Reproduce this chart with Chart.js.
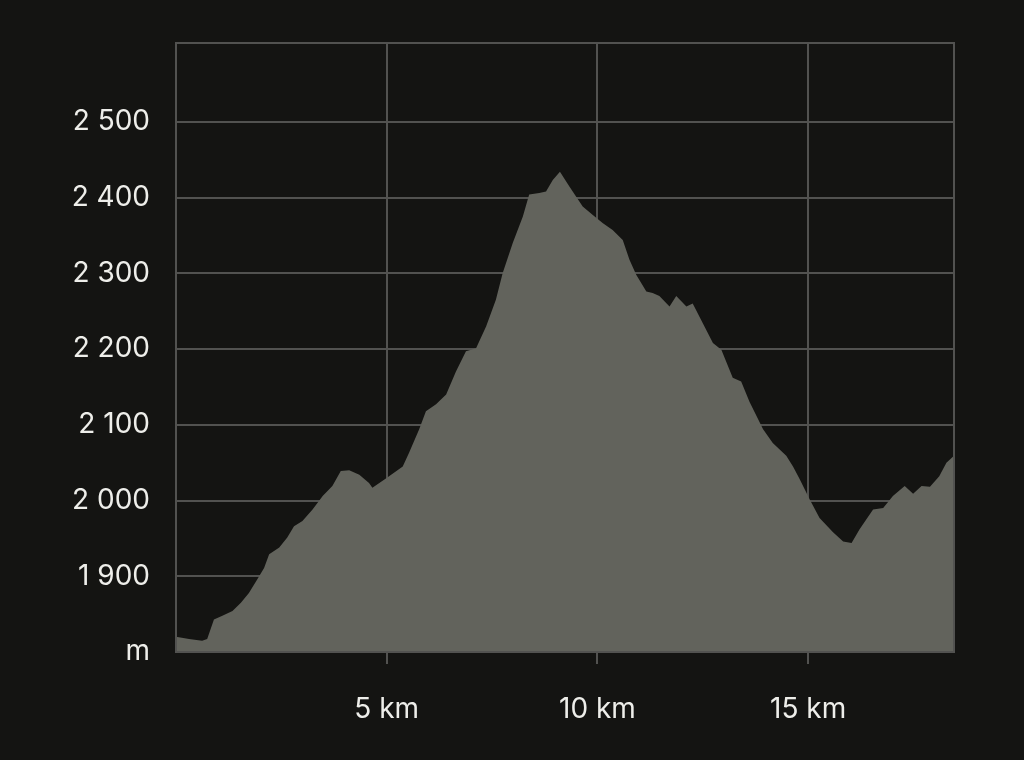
<!DOCTYPE html>
<html>
<head>
<meta charset="utf-8">
<script src="https://cdn.jsdelivr.net/npm/chart.js@4"></script>
<style>
    html, body { margin: 0; padding: 0; background: #141412; }
    #wrap { width: 1024px; height: 760px; position: relative; }
</style>
</head>
<body>
<div id="wrap"><canvas id="profileChart"></canvas></div>
<script>
// Distance along the route (km) and elevation (m)
const distKm = [
    0.00, 0.31, 0.62, 0.74, 0.90, 1.10, 1.34, 1.54, 1.73, 1.93,
    2.09, 2.21, 2.45, 2.64, 2.80, 3.00, 3.24, 3.48, 3.71, 3.91,
    4.11, 4.35, 4.58, 4.66, 4.98, 5.38, 5.53, 5.77, 5.93, 6.17,
    6.41, 6.64, 6.88, 7.12, 7.36, 7.59, 7.75, 7.99, 8.23, 8.38,
    8.62, 8.78, 8.94, 9.11, 9.33, 9.65, 9.89, 10.13, 10.36, 10.60,
    10.76, 10.92, 11.16, 11.31, 11.47, 11.71, 11.87, 12.11, 12.26, 12.50,
    12.74, 12.94, 13.21, 13.41, 13.61, 13.93, 14.16, 14.48, 14.64, 14.80,
    15.04, 15.27, 15.59, 15.83, 16.03, 16.22, 16.54, 16.78, 17.01, 17.29,
    17.49, 17.69, 17.89, 18.11, 18.28, 18.46
];
const elevM = [
    1820, 1817, 1815, 1817, 1843, 1848, 1854, 1865, 1878, 1896,
    1911, 1929, 1938, 1951, 1966, 1973, 1988, 2006, 2019, 2039,
    2040, 2034, 2023, 2017, 2029, 2045, 2063, 2094, 2118, 2127,
    2140, 2170, 2197, 2201, 2230, 2265, 2300, 2340, 2375, 2404,
    2406, 2408, 2423, 2434, 2415, 2388, 2377, 2366, 2357, 2344,
    2318, 2298, 2276, 2274, 2270, 2256, 2270, 2256, 2260, 2234,
    2208, 2199, 2162, 2157, 2130, 2094, 2076, 2059, 2045, 2028,
    2001, 1977, 1958, 1946, 1944, 1962, 1988, 1990, 2006, 2019,
    2009, 2019, 2018, 2032, 2050, 2059
];
const xTicks = [5, 10, 15];
const yTicks = [1800, 1900, 2000, 2100, 2200, 2300, 2400, 2500];

const colors = {
    bg: '#141412',
    fill: '#62635c',
    grid: '#525250',
    text: '#eeeeea'
};

const fontSpec = { family: 'Inter, "Noto Sans", sans-serif', size: 28 };

// space as thousands separator, bottom tick shows the unit
const fmtElev = (v) => {
    if (v === 1800) return 'm';
    const s = String(v);
    return s.length > 3 ? s.slice(0, -3) + '\u00A0' + s.slice(-3) : s;
};

const framePlugin = {
    id: 'frame',
    beforeDraw(chart) {
        const ctx = chart.ctx;
        ctx.save();
        ctx.fillStyle = colors.bg;
        ctx.fillRect(0, 0, chart.width, chart.height);
        ctx.restore();
    },
    afterDatasetsDraw(chart) {
        const { ctx, chartArea: a } = chart;
        ctx.save();
        ctx.strokeStyle = colors.grid;
        ctx.lineWidth = 2;
        ctx.strokeRect(a.left, a.top, a.right - a.left, a.bottom - a.top);
        ctx.restore();
    }
};

new Chart(document.getElementById('profileChart'), {
    type: 'line',
    data: {
        datasets: [{
            data: distKm.map((d, i) => ({ x: d, y: elevM[i] })),
            fill: 'start',
            backgroundColor: colors.fill,
            borderWidth: 0,
            pointRadius: 0,
            tension: 0
        }]
    },
    options: {
        responsive: true,
        maintainAspectRatio: false,
        animation: false,
        layout: { padding: { top: 43, right: 70, left: 0, bottom: 0 } },
        plugins: { legend: { display: false }, tooltip: { enabled: false } },
        scales: {
            x: {
                type: 'linear',
                min: 0,
                max: 18.46,
                afterBuildTicks: (axis) => { axis.ticks = xTicks.map(v => ({ value: v })); },
                afterFit: (axis) => { axis.height = 108; },
                grid: { color: colors.grid, lineWidth: 2, tickLength: 12, drawOnChartArea: true },
                border: { display: false },
                ticks: {
                    color: colors.text,
                    font: fontSpec,
                    padding: 29,
                    maxRotation: 0,
                    callback: (v) => v + ' km'
                }
            },
            y: {
                min: 1800,
                max: 2604,
                afterBuildTicks: (axis) => { axis.ticks = yTicks.map(v => ({ value: v })); },
                afterFit: (axis) => { axis.width = 176; },
                grid: { color: colors.grid, lineWidth: 2, drawTicks: false },
                border: { display: false },
                ticks: {
                    color: colors.text,
                    font: fontSpec,
                    padding: 26,
                    callback: (v) => fmtElev(v)
                }
            }
        }
    },
    plugins: [framePlugin]
});
</script>
</body>
</html>
